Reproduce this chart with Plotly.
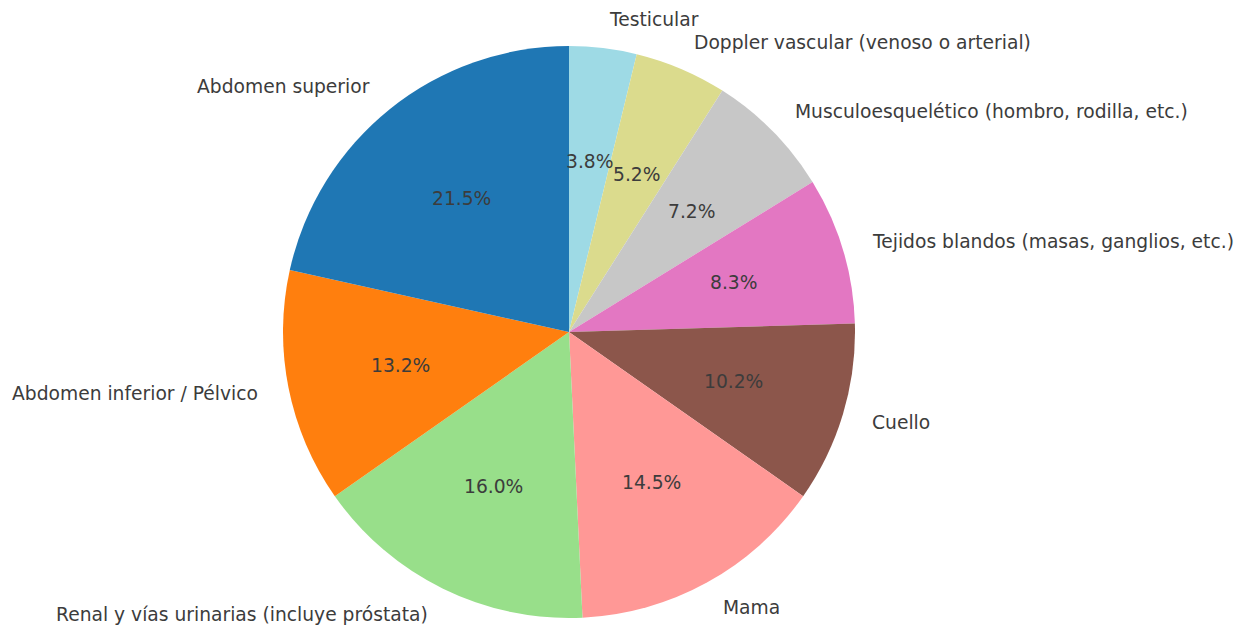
import numpy as np
import plotly.graph_objects as go

labels = [
    "Abdomen superior",
    "Abdomen inferior / Pélvico",
    "Renal y vías urinarias (incluye próstata)",
    "Mama",
    "Cuello",
    "Tejidos blandos (masas, ganglios, etc.)",
    "Musculoesquelético (hombro, rodilla, etc.)",
    "Doppler vascular (venoso o arterial)",
    "Testicular",
]
values = [21.5, 13.2, 16.0, 14.5, 10.2, 8.3, 7.2, 5.2, 3.8]
colors = ["#1f77b4", "#ff7f0e", "#98df8a", "#ff9896", "#8c564b",
          "#e377c2", "#c7c7c7", "#dbdb8d", "#9edae5"]

# the page body has an 8px margin, so the figure is a bit smaller
W, H = 1237, 620
cx, cy, r = 561, 324, 286  # pie centre / radius in figure pixels
FONT = "DejaVu Sans"
TXT = "#3c3c3c"

# slices run counterclockwise from 12 o'clock; plotly draws clockwise
# from 12 o'clock, so feed it the reversed order
fig = go.Figure(
    go.Pie(
        labels=labels[::-1],
        values=values[::-1],
        marker=dict(colors=colors[::-1], line=dict(width=0)),
        sort=False,
        direction="clockwise",
        rotation=0,
        textinfo="none",
        hoverinfo="label+percent",
        showlegend=False,
        domain=dict(
            x=[(cx - r) / W, (cx + r) / W],
            y=[(H - cy - r) / H, (H - cy + r) / H],
        ),
    )
)

# matplotlib style labels: names at 1.1 r, percentages at 0.6 r
total = sum(values)
start = 90.0
for lab, v in zip(labels, values):
    span = v / total * 360
    mid = np.deg2rad(start + span / 2)
    start += span
    c, s = np.cos(mid), np.sin(mid)
    fig.add_annotation(
        x=(cx + 1.1 * r * c) / W, y=(H - cy + 1.1 * r * s) / H,
        xref="paper", yref="paper", text=lab, showarrow=False,
        xanchor="left" if c > 0 else "right", yanchor="middle",
        font=dict(family=FONT, size=18.7, color=TXT),
    )
    fig.add_annotation(
        x=(cx + 0.6 * r * c) / W, y=(H - cy + 0.6 * r * s) / H,
        xref="paper", yref="paper", text=f"{v / total * 100:.1f}%", showarrow=False,
        xanchor="center", yanchor="middle",
        font=dict(family=FONT, size=18.7, color=TXT),
    )

fig.update_layout(
    width=W, height=H,
    margin=dict(l=0, r=0, t=0, b=0),
    paper_bgcolor="white",
    plot_bgcolor="white",
)

fig.write_html("out.html")
